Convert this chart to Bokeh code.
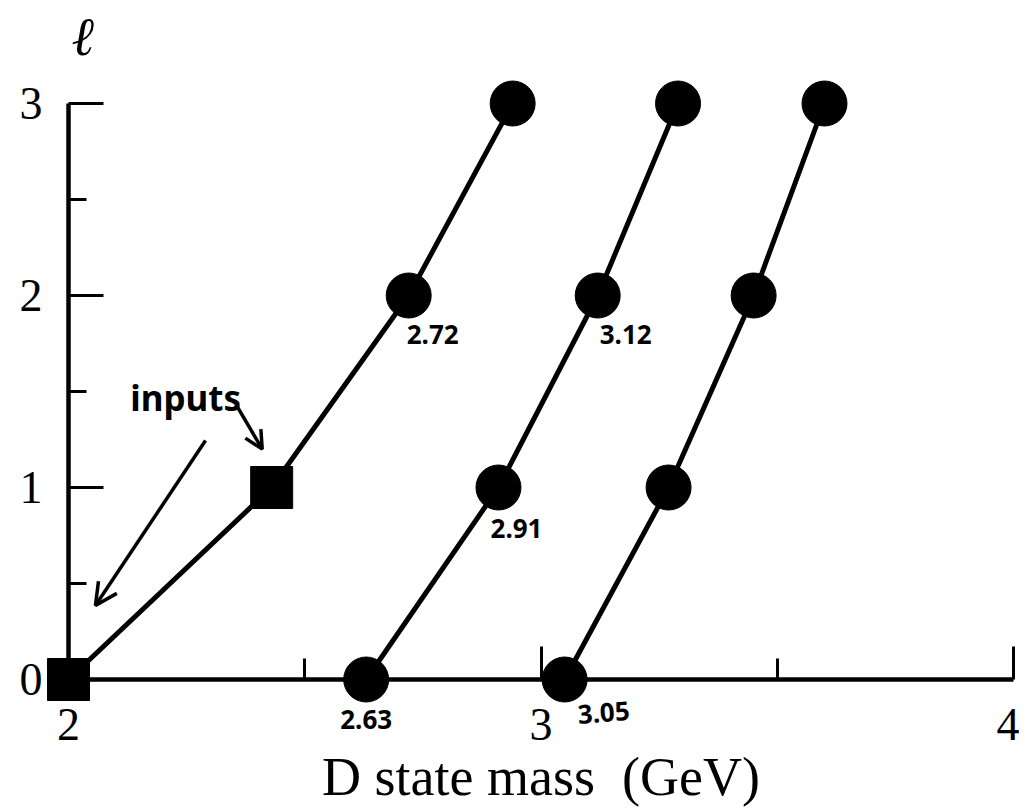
from bokeh.plotting import figure
from bokeh.models import FixedTicker, ColumnDataSource, Label, Arrow, OpenHead
from bokeh.core.properties import value
from bokeh.embed import file_html
from bokeh.resources import INLINE

# ---- data ----
ell = [0, 1, 2, 3]
mass_1 = [2.00, 2.43, 2.72, 2.94]   # first trajectory; ell = 0, 1 are the inputs
mass_2 = [2.63, 2.91, 3.12, 3.29]
mass_3 = [3.05, 3.27, 3.45, 3.60]
n_inputs = 2

x_ticks = [2, 3, 4]
x_minor = [2.5, 3.5]
y_ticks = [0, 1, 2, 3]
y_minor = [0.5, 1.5, 2.5]

# which points carry a handwritten mass label (series, ell index)
labelled = [(mass_1, 2), (mass_2, 2), (mass_2, 1), (mass_2, 0), (mass_3, 0)]
# label placement (screen-pixel offsets from the point, and tilt)
label_dx = [24, 28, 18, 0, 39]
label_dy = [39, 39, 41, 40, 33]
label_angle = [0, 0, 0, 0, 0.08]

FONT = "Liberation Serif"

p = figure(width=1019, height=810, x_range=(2, 4), y_range=(0, 3),
           output_backend="svg", toolbar_location=None,
           min_border_left=68, min_border_right=6,
           min_border_top=103, min_border_bottom=131)
p.outline_line_color = None
p.grid.visible = False
p.background_fill_color = "white"
p.border_fill_color = "white"

# x axis
xa = p.xaxis[0]
xa.ticker = FixedTicker(ticks=x_ticks, minor_ticks=x_minor)
xa.axis_label = "D state mass\u00a0 (GeV)"
xa.axis_label_text_font = FONT
xa.axis_label_text_font_style = "normal"
xa.axis_label_text_font_size = "54px"
xa.axis_label_text_color = "black"
xa.axis_label_standoff = 4
xa.major_label_text_font = FONT
xa.major_label_text_font_size = "46px"
xa.major_label_text_color = "black"
xa.major_label_standoff = 29
xa.axis_line_width = 4.5
xa.axis_line_color = "black"
xa.major_tick_in = 33
xa.major_tick_out = 0
xa.minor_tick_in = 21
xa.minor_tick_out = 0
xa.major_tick_line_width = 3
xa.minor_tick_line_width = 3
xa.major_tick_line_color = "black"
xa.minor_tick_line_color = "black"

# y axis
ya = p.yaxis[0]
ya.ticker = FixedTicker(ticks=y_ticks, minor_ticks=y_minor)
ya.major_label_text_font = FONT
ya.major_label_text_font_size = "46px"
ya.major_label_text_color = "black"
ya.major_label_standoff = 26
ya.axis_line_width = 4.5
ya.axis_line_color = "black"
ya.major_tick_in = 35
ya.major_tick_out = 0
ya.minor_tick_in = 18
ya.minor_tick_out = 0
ya.major_tick_line_width = 3
ya.minor_tick_line_width = 3
ya.major_tick_line_color = "black"
ya.minor_tick_line_color = "black"

# trajectories
for m in (mass_1, mass_2, mass_3):
    p.line(m, ell, line_width=5, line_color="black", level="overlay")

# input points (squares) and predicted points (circles)
p.scatter(mass_1[:n_inputs], ell[:n_inputs], marker="square", size=42,
          color="black", level="overlay")
cx = mass_1[n_inputs:] + mass_2 + mass_3
cy = ell[n_inputs:] + ell + ell
p.scatter(cx, cy, marker="circle", size=45, color="black", level="overlay")

# handwritten mass labels
lab = ColumnDataSource(dict(
    x=[s[i] for s, i in labelled],
    y=[ell[i] for s, i in labelled],
    text=[f"{s[i]:.2f}" for s, i in labelled],
    dx=label_dx, dy=label_dy, ang=label_angle,
))
p.text(x="x", y="y", text="text", x_offset="dx", y_offset="dy", angle="ang",
       source=lab, text_font=value("Noto Sans"), text_font_style="bold",
       text_font_size="26px", text_align="center", text_baseline="middle",
       text_color="black", level="overlay")

# "inputs" note with arrows
p.add_layout(Label(x=2.248, y=1.47, text="inputs", text_font="Noto Sans",
                   text_font_style="bold", text_font_size="35px",
                   text_align="center", text_baseline="middle",
                   text_color="black"))
p.add_layout(Arrow(end=OpenHead(size=22, line_width=3.5, line_color="black"),
                   x_start=2.29, y_start=1.245, x_end=2.057, y_end=0.385,
                   line_width=3.5, line_color="black"))
p.add_layout(Arrow(end=OpenHead(size=18, line_width=3.5, line_color="black"),
                   x_start=2.355, y_start=1.43, x_end=2.41, y_end=1.20,
                   line_width=3.5, line_color="black"))

# axis symbol for the orbital angular momentum (placed above the y axis)
p.text(x=[2.03], y=[3.35], text=["ℓ"], text_font=value("DejaVu Serif"),
       text_font_style="italic", text_font_size="54px",
       text_align="center", text_baseline="middle",
       text_color="black", level="overlay")

open("out.html", "w").write(file_html(p, INLINE))
